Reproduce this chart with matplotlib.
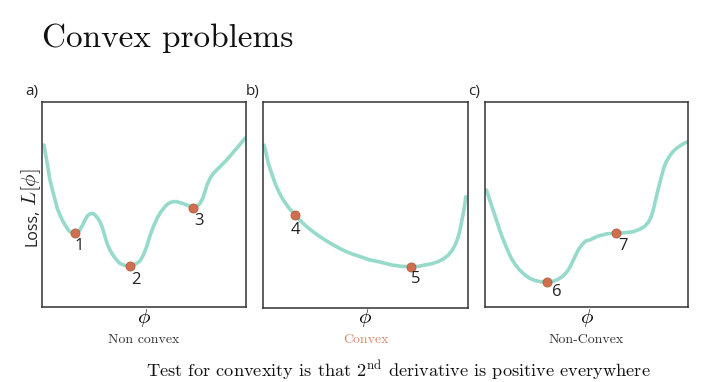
import matplotlib
matplotlib.use("Agg")
import matplotlib.pyplot as plt

plt.rcParams["mathtext.fontset"] = "cm"
plt.rcParams["font.family"] = ["Open Sans", "DejaVu Sans"]

# ---- curves (phi, loss) ----
phi_a = [0.010, 0.015, 0.023, 0.031, 0.039, 0.051, 0.064, 0.075, 0.088, 0.101,
         0.113, 0.126, 0.137, 0.149, 0.162, 0.173, 0.186, 0.199, 0.211, 0.222,
         0.235, 0.248, 0.260, 0.271, 0.284, 0.297, 0.309, 0.320, 0.333, 0.350,
         0.366, 0.382, 0.399, 0.415, 0.431, 0.448, 0.464, 0.480, 0.497, 0.513,
         0.529, 0.546, 0.562, 0.578, 0.595, 0.611, 0.627, 0.644, 0.660, 0.676,
         0.693, 0.709, 0.725, 0.742, 0.758, 0.775, 0.788, 0.799, 0.810, 0.824,
         0.840, 0.856, 0.881, 0.905, 0.930, 0.954, 0.979, 0.995]
loss_a = [0.790, 0.758, 0.717, 0.668, 0.620, 0.571, 0.522, 0.481, 0.449, 0.421,
          0.400, 0.380, 0.367, 0.361, 0.359, 0.363, 0.376, 0.400, 0.424, 0.444,
          0.454, 0.457, 0.449, 0.436, 0.416, 0.384, 0.343, 0.307, 0.278, 0.250,
          0.229, 0.213, 0.205, 0.200, 0.200, 0.203, 0.213, 0.224, 0.254, 0.294,
          0.346, 0.392, 0.428, 0.457, 0.480, 0.498, 0.509, 0.514, 0.514, 0.509,
          0.504, 0.498, 0.491, 0.485, 0.489, 0.506, 0.530, 0.563, 0.598, 0.628,
          0.652, 0.668, 0.693, 0.717, 0.746, 0.774, 0.803, 0.823]

phi_b = [0.005, 0.015, 0.026, 0.042, 0.059, 0.078, 0.099, 0.127, 0.156, 0.184,
         0.213, 0.246, 0.278, 0.311, 0.343, 0.376, 0.408, 0.441, 0.473, 0.522,
         0.563, 0.628, 0.676, 0.720, 0.758, 0.790, 0.823, 0.855, 0.883, 0.904,
         0.924, 0.937, 0.950, 0.961, 0.969, 0.977, 0.984, 0.989]
loss_b = [0.791, 0.751, 0.702, 0.654, 0.605, 0.562, 0.524, 0.485, 0.451, 0.422,
          0.395, 0.369, 0.346, 0.325, 0.306, 0.288, 0.273, 0.260, 0.250, 0.233,
          0.225, 0.209, 0.202, 0.201, 0.202, 0.209, 0.215, 0.225, 0.240, 0.257,
          0.282, 0.306, 0.338, 0.379, 0.419, 0.460, 0.500, 0.540]

phi_c = [0.007, 0.018, 0.031, 0.048, 0.064, 0.080, 0.097, 0.113, 0.130, 0.149,
         0.171, 0.195, 0.220, 0.245, 0.269, 0.307, 0.335, 0.360, 0.384, 0.404,
         0.420, 0.433, 0.447, 0.461, 0.478, 0.496, 0.516, 0.557, 0.606, 0.647,
         0.696, 0.729, 0.762, 0.787, 0.806, 0.819, 0.831, 0.844, 0.857, 0.869,
         0.880, 0.893, 0.910, 0.926, 0.946, 0.967, 0.988, 1.000]
loss_c = [0.571, 0.538, 0.498, 0.449, 0.400, 0.354, 0.311, 0.273, 0.237, 0.207,
          0.180, 0.158, 0.140, 0.130, 0.124, 0.120, 0.125, 0.135, 0.151, 0.172,
          0.197, 0.224, 0.254, 0.281, 0.304, 0.322, 0.327, 0.346, 0.358, 0.359,
          0.363, 0.367, 0.379, 0.394, 0.415, 0.441, 0.481, 0.538, 0.590, 0.636,
          0.676, 0.709, 0.737, 0.758, 0.776, 0.790, 0.802, 0.805]

# marked points: (phi, loss, label, text offset in points)
points_a = [(0.162, 0.359, "1", (3, -9)), (0.431, 0.200, "2", (4, -10)),
            (0.742, 0.485, "3", (4, -10))]
points_b = [(0.156, 0.451, "4", (0, -11)), (0.720, 0.201, "5", (4, -9))]
points_c = [(0.307, 0.120, "6", (7, -7)), (0.647, 0.359, "7", (5, -9))]

panel_labels = ["a)", "b)", "c)"]
subtitles = ["Non convex", "Convex", "Non-Convex"]
subtitle_colors = ["#333333", "#d4896a", "#333333"]

LINE = "#96dacb"
DOT = "#cf6f4f"

W, H = 704, 382
fig = plt.figure(figsize=(W / 100, H / 100), dpi=100)

# axes boxes in pixels: left, top, right, bottom
boxes = [(42, 102, 246, 307), (263, 102, 468, 308), (485, 102, 688, 307)]
curves = [(phi_a, loss_a, points_a), (phi_b, loss_b, points_b), (phi_c, loss_c, points_c)]

for i, ((l, t, r, b), (xs, ys, pts)) in enumerate(zip(boxes, curves)):
    ax = fig.add_axes([l / W, 1 - b / H, (r - l) / W, (b - t) / H])
    ax.plot(xs, ys, color=LINE, lw=2.6, solid_capstyle="round", solid_joinstyle="round")
    for px, py, lab, off in pts:
        ax.plot(px, py, "o", ms=6.5, color=DOT, mec="#b65a3c", mew=0.6, zorder=3)
        ax.annotate(lab, (px, py), xytext=off, textcoords="offset points",
                    ha="center", va="center", fontsize=12, color="#222222")
    ax.set_xlim(0, 1)
    ax.set_ylim(0, 1)
    ax.set_xticks([])
    ax.set_yticks([])
    for s in ax.spines.values():
        s.set_color("#333333")
        s.set_linewidth(1.1)
    cx = (l + r) / 2
    fig.text(cx / W, 1 - 318 / H, r"$\phi$", ha="center", va="center", fontsize=15)
    fig.text(cx / W, 1 - 340 / H, subtitles[i], ha="center", va="center",
             fontsize=10, family="cmr10", color=subtitle_colors[i])
    fig.text((l - 17) / W, 1 - 91 / H, panel_labels[i], ha="left", va="center",
             fontsize=11, color="#222222")

# y label: sans "Loss," plus a larger math part
fig.text(32 / W, 1 - 227 / H, "Loss,", rotation=90, ha="center",
         va="center", fontsize=11.5, color="#222222")
fig.text(31 / W, 1 - 187 / H, r"$L[\phi]$", rotation=90, ha="center",
         va="center", fontsize=15, color="#222222")

fig.text(42 / W, 1 - 38 / H, "Convex problems", ha="left", va="center",
         fontsize=24, family="cmr10", color="#111111")
fig.text(398 / W, 1 - 371 / H,
         r"Test for convexity is that 2$^{\rm nd}$ derivative is positive everywhere",
         ha="center", va="center", fontsize=13.2, family="cmr10", color="#111111")

fig.savefig("out.png", dpi=100)
